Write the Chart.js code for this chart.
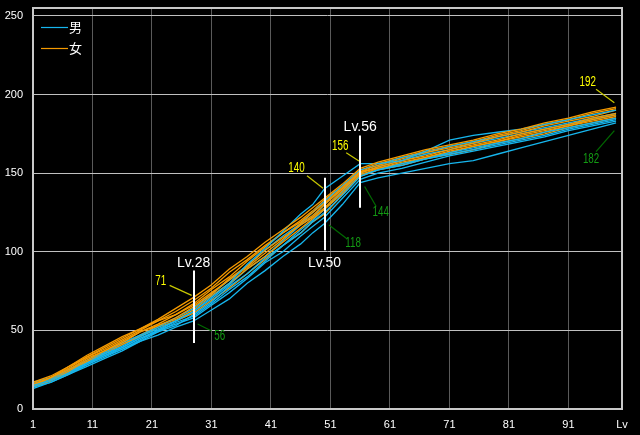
<!DOCTYPE html>
<html lang="ja">
<head>
<meta charset="utf-8">
<title>Lv別 推移</title>
<script src="https://cdn.jsdelivr.net/npm/chart.js@4.4.1/dist/chart.umd.min.js"></script>
<style>
  html, body { margin: 0; padding: 0; background: #000; }
  #wrap { width: 640px; height: 435px; }
</style>
</head>
<body>
<div id="wrap"><canvas id="chart" width="640" height="435"></canvas></div>
<script>
/* データ（グラフから読み取った概算値） */
const levels = [1,4,7,10,13,16,19,22,25,28,31,34,37,40,43,46,48,50,53,56,59,63,67,71,75,79,83,87,91,95,99];

// 男
const male1 = [15,18,23,29,35,39,45,50,56,62,71,80,92,102,113,124,130,140,148,156,156,158,164,171,174,176,178,181,184,187,190];
const male2 = [14,17,22,27,32,37,43,47,52,56,63,70,80,88,97,105,112,118,130,144,147,150,153,156,158,162,166,170,174,178,182];
const male3 = [16,19,24,29,34,39,45,49,55,59,67,76,84,94,104,112,119,125,136,148,152,156,159,163,166,169,172,176,179,182,185];
const male4 = [15,19,25,31,36,42,47,52,58,64,73,82,91,101,110,118,125,132,142,152,155,160,163,167,170,173,176,179,182,185,188];
const male5 = [13,17,22,28,33,38,43,49,53,60,68,78,86,96,104,114,120,127,138,149,152,155,159,162,165,168,171,174,178,181,184];
const male6 = [17,20,25,30,35,40,46,51,56,62,70,79,89,97,107,117,122,130,140,150,154,158,162,165,169,172,175,178,181,184,187];
const male7 = [14,18,23,28,34,38,44,50,54,58,66,74,83,93,100,110,116,122,134,146,150,153,157,161,164,167,170,173,177,180,183];

// 女
const female1 = [16,20,27,34,40,46,51,57,64,71,79,89,97,106,114,122,128,134,143,153,157,161,165,168,171,175,178,182,185,189,192];
const female2 = [15,20,26,33,38,44,50,56,60,67,76,84,94,103,112,119,125,131,141,151,155,159,163,166,169,173,176,180,183,186,190];
const female3 = [14,18,24,31,37,42,49,53,58,65,73,83,91,101,109,117,122,128,139,150,154,158,161,165,168,171,175,178,181,185,188];
const female4 = [16,19,25,32,37,43,49,54,60,66,74,82,90,99,108,118,123,130,140,151,153,157,160,164,167,170,174,177,180,184,187];
const female5 = [15,18,23,30,36,41,47,53,57,63,72,80,89,97,106,115,121,127,137,149,153,156,160,163,167,170,173,176,180,183,186];
const female6 = [17,21,27,33,39,45,51,56,62,69,77,87,95,104,112,120,126,133,142,152,156,160,164,167,170,174,177,181,184,188,191];
const female7 = [14,18,24,30,35,41,46,52,56,61,69,77,86,95,104,112,119,124,136,148,152,155,159,162,165,169,172,175,179,182,185];

const maleSeries = [male1, male2, male3, male4, male5, male6, male7];
const femaleSeries = [female1, female2, female3, female4, female5, female6, female7];

const xTicks = [1,11,21,31,41,51,61,71,81,91,100];
const yTicks = [0,50,100,150,200,250];

// 注目レベル（縦線の範囲）と最終レベル
const markLevels = [28, 50, 56];
const markLineFrom = [42, 101, 128];
const markLineTo = [88, 147, 174];
const lastLevel = 99;

/* 見た目 */
const BLUE = '#16b6ee';
const ORANGE = '#f59a00';
const TICK_FONT = '"Liberation Sans", Arial, sans-serif';

// 数値ラベルの位置（点からのずれ、px）
const noteOffsets = {
  28: { title: 'top',    max: { text: [-33, -16], lead: [-24, -12, -2, -2] },      min: { text: [26, 15],    lead: [4, 3, 18, 10] } },
  50: { title: 'bottom', max: { text: [-28, -21], lead: [-17.5, -13, -1.5, -0.5] }, min: { text: [28.5, 20], lead: [4.5, 1.6, 22, 15] } },
  56: { title: 'top',    max: { text: [-20, -18], lead: [-14, -11, -1.3, -2.7] },   min: { text: [20.5, 29.4], lead: [4.4, 4, 16, 24] } },
  99: { title: null,     max: { text: [-28.4, -25.4], lead: [-20, -17.8, -1.7, -4.4] }, min: { text: [-25, 36], lead: [-1.7, 7.9, -20, 28.9] } }
};

function toPoints(values) {
  return levels.map((lv, i) => ({ x: lv, y: values[i] }));
}

const datasets = [];
for (let i = 0; i < maleSeries.length; i++) {
  datasets.push({ label: '女', data: toPoints(femaleSeries[i]), borderColor: ORANGE });
  datasets.push({ label: '男', data: toPoints(maleSeries[i]), borderColor: BLUE });
}
datasets.forEach(d => Object.assign(d, { borderWidth: 1.3, pointRadius: 0, tension: 0, fill: false }));

function valuesAt(lv) {
  const idx = levels.indexOf(lv);
  return maleSeries.concat(femaleSeries).map(s => s[idx]);
}

function narrowText(ctx, text, x, y, color) {
  ctx.save();
  ctx.translate(x, y);
  ctx.scale(0.7, 1);
  ctx.fillStyle = color;
  ctx.font = '14px "Liberation Sans", Arial, sans-serif';
  ctx.textAlign = 'center';
  ctx.textBaseline = 'middle';
  ctx.fillText(text, 0, 0);
  ctx.restore();
}

function leader(ctx, px, py, d, color) {
  ctx.strokeStyle = color;
  ctx.lineWidth = 1.2;
  ctx.beginPath();
  ctx.moveTo(px + d[0], py + d[1]);
  ctx.lineTo(px + d[2], py + d[3]);
  ctx.stroke();
}

// 枠・注記・凡例
const overlay = {
  id: 'overlay',
  afterDatasetsDraw(chart) {
    const { ctx, chartArea: a, scales: { x, y } } = chart;
    ctx.save();

    ctx.strokeStyle = '#c8c8c8';
    ctx.lineWidth = 2;
    ctx.strokeRect(a.left, a.top, a.right - a.left, a.bottom - a.top);

    markLevels.concat([lastLevel]).forEach((lv, i) => {
      const px = x.getPixelForValue(lv);
      const vals = valuesAt(lv);
      const vMax = Math.max(...vals);
      const vMin = Math.min(...vals);
      const off = noteOffsets[lv];

      if (i < markLevels.length) {
        const top = y.getPixelForValue(markLineTo[i]);
        const bot = y.getPixelForValue(markLineFrom[i]);
        ctx.strokeStyle = '#ffffff';
        ctx.lineWidth = 2;
        ctx.beginPath();
        ctx.moveTo(Math.round(px), top);
        ctx.lineTo(Math.round(px), bot);
        ctx.stroke();

        ctx.fillStyle = '#ffffff';
        ctx.font = '14px "Liberation Sans", Arial, sans-serif';
        ctx.textAlign = 'center';
        ctx.textBaseline = 'alphabetic';
        const ty = off.title === 'top' ? top - 4 : bot + 17;
        ctx.fillText('Lv.' + lv, px, ty);
      }

      const yMax = y.getPixelForValue(vMax);
      const yMin = y.getPixelForValue(vMin);
      leader(ctx, px, yMax, off.max.lead, '#c8c800');
      leader(ctx, px, yMin, off.min.lead, '#006a00');
      narrowText(ctx, String(vMax), px + off.max.text[0], yMax + off.max.text[1], '#ffff00');
      narrowText(ctx, String(vMin), px + off.min.text[0], yMin + off.min.text[1], '#139a13');
    });

    // 凡例
    [['男', BLUE], ['女', ORANGE]].forEach(([name, color], i) => {
      const ly = 27.5 + i * 21;
      ctx.strokeStyle = color;
      ctx.lineWidth = 1.2;
      ctx.beginPath();
      ctx.moveTo(41, ly);
      ctx.lineTo(68, ly);
      ctx.stroke();
      ctx.fillStyle = '#ffffff';
      ctx.font = '13px "Noto Sans CJK JP", sans-serif';
      ctx.textAlign = 'left';
      ctx.textBaseline = 'middle';
      ctx.fillText(name, 69, ly);
    });

    ctx.restore();
  }
};

new Chart(document.getElementById('chart'), {
  type: 'line',
  data: { datasets },
  options: {
    responsive: false,
    animation: false,
    events: [],
    layout: { padding: { top: 8, right: 18, left: 0, bottom: 0 } },
    plugins: { legend: { display: false }, tooltip: { enabled: false } },
    scales: {
      x: {
        type: 'linear',
        min: 1,
        max: 100,
        grid: { color: '#5a5a5a', drawTicks: false },
        border: { display: false },
        ticks: {
          color: '#ffffff',
          font: { family: TICK_FONT, size: 11 },
          padding: 9,
          maxRotation: 0,
          autoSkip: false,
          callback: v => (v === 100 ? 'Lv' : v)
        },
        afterBuildTicks: s => { s.ticks = xTicks.map(v => ({ value: v })); },
        afterFit: s => { s.height = 26; s.paddingLeft = 0; s.paddingRight = 0; }
      },
      y: {
        min: 0,
        max: 255,
        grid: { color: '#c0c0c0', drawTicks: false },
        border: { display: false },
        ticks: {
          color: '#ffffff',
          font: { family: TICK_FONT, size: 11 },
          padding: 10
        },
        afterBuildTicks: s => { s.ticks = yTicks.map(v => ({ value: v })); },
        afterFit: s => { s.width = 33; s.paddingTop = 0; s.paddingBottom = 0; }
      }
    }
  },
  plugins: [overlay]
});
</script>
</body>
</html>
